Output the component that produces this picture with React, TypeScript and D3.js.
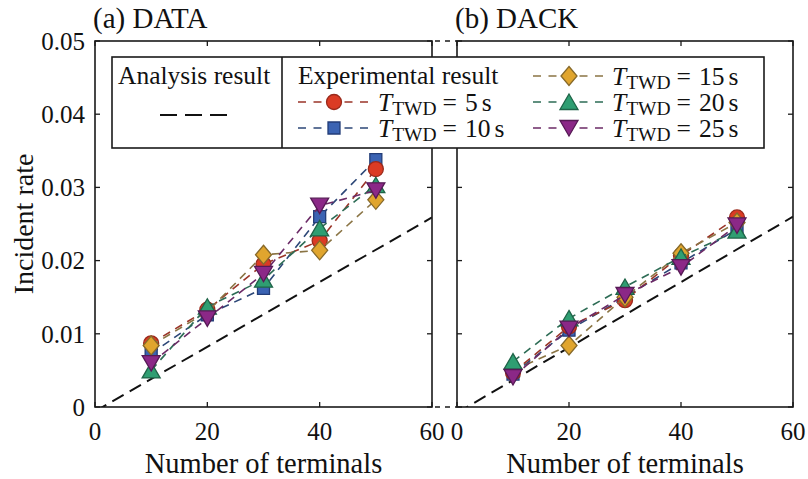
import React from "react";
import * as d3 from "d3";

const terminals = [10, 20, 30, 40, 50];
const xTicks = [0, 20, 40, 60];
const yTicks = [0, 0.01, 0.02, 0.03, 0.04, 0.05];
const yTickLabels = ["0", "0.01", "0.02", "0.03", "0.04", "0.05"];

// (a) DATA
const dataT5 = [0.0087, 0.0133, 0.0195, 0.0227, 0.0325];
const dataT10 = [0.0073, 0.0126, 0.0162, 0.026, 0.0338];
const dataT15 = [0.0084, 0.013, 0.0208, 0.0214, 0.0283];
const dataT20 = [0.005, 0.0137, 0.0174, 0.0244, 0.0303];
const dataT25 = [0.006, 0.0121, 0.0182, 0.0275, 0.0296];
// (b) DACK
const dackT5 = [0.0047, 0.011, 0.0146, 0.0207, 0.0259];
const dackT10 = [0.0045, 0.0105, 0.015, 0.0197, 0.0243];
const dackT15 = [0.005, 0.0084, 0.015, 0.021, 0.0252];
const dackT20 = [0.0062, 0.0121, 0.0164, 0.0205, 0.0241];
const dackT25 = [0.0041, 0.0107, 0.0153, 0.0191, 0.0248];

// analysis result
const analysisX = [0, 60];
const analysisData = [-0.0006, 0.0259];
const analysisDack = [-0.0008, 0.026];

type Style = { marker: string; fill: string; stroke: string; line: string };
const styles: Record<string, Style> = {
  "5": { marker: "circle", fill: "#db3b24", stroke: "#9a2a1c", line: "#9a3528" },
  "10": { marker: "square", fill: "#3b63b3", stroke: "#233d78", line: "#2c4777" },
  "15": { marker: "diamond", fill: "#e0a52e", stroke: "#86692a", line: "#8a7444" },
  "20": { marker: "up", fill: "#2f9e72", stroke: "#1f6448", line: "#2d6c55" },
  "25": { marker: "down", fill: "#8b2887", stroke: "#561a55", line: "#6b2a66" },
};

const FONT = '"Liberation Serif", "Times New Roman", Times, serif';
const AX = "#1a1a1a";

const y = d3.scaleLinear().domain([0, 0.05]).range([407, 41]);
const xL = d3.scaleLinear().domain([0, 60]).range([95, 432]);
const xR = d3.scaleLinear().domain([0, 60]).range([457, 793]);

function markerPath(kind: string): string {
  switch (kind) {
    case "circle":
      return "M7.5,0A7.5,7.5,0,1,1,-7.5,0A7.5,7.5,0,1,1,7.5,0Z";
    case "square":
      return "M-6,-6H6V6H-6Z";
    case "diamond":
      return "M0,-9.5L8,0L0,9.5L-8,0Z";
    case "up":
      return "M0,-8L9,7.5L-9,7.5Z";
    case "down":
    default:
      return "M0,8L9,-7.5L-9,-7.5Z";
  }
}

function Marker({ kind, x, yy, fill, stroke }: { kind: string; x: number; yy: number; fill: string; stroke: string }) {
  return (
    <path d={markerPath(kind)} transform={`translate(${x},${yy})`} fill={fill} stroke={stroke} strokeWidth={1.3} />
  );
}

const drawOrder = ["10", "5", "15", "20", "25"];

function Panel({
  id,
  x,
  series,
  analysis,
  title,
  showY,
}: {
  id: string;
  x: d3.ScaleLinear<number, number>;
  series: Record<string, number[]>;
  analysis: number[];
  title: string;
  showY: boolean;
}) {
  const [x0, x1] = x.range();
  const [y0, y1] = y.range();
  const line = d3
    .line<number>()
    .x((_, i) => x(terminals[i]))
    .y((d) => y(d));
  const aLine = d3
    .line<number>()
    .x((_, i) => x(analysisX[i]))
    .y((d) => y(d));
  return (
    <g>
      <defs>
        <clipPath id={`clip-${id}`}>
          <rect x={x0} y={y1} width={x1 - x0} height={y0 - y1} />
        </clipPath>
      </defs>
      <path
        d={aLine(analysis) || ""}
        fill="none"
        stroke="#111"
        strokeWidth={2}
        strokeDasharray="13,7"
        clipPath={`url(#clip-${id})`}
      />
      {drawOrder.map((k) => (
        <g key={k}>
          <path d={line(series[k]) || ""} fill="none" stroke={styles[k].line} strokeWidth={1.6} strokeDasharray="8,6" />
          {series[k].map((v, i) => (
            <Marker key={i} kind={styles[k].marker} x={x(terminals[i])} yy={y(v)} fill={styles[k].fill} stroke={styles[k].stroke} />
          ))}
        </g>
      ))}
      <rect x={x0} y={y1} width={x1 - x0} height={y0 - y1} fill="none" stroke={AX} strokeWidth={1.6} />
      {xTicks.map((t) => (
        <g key={`xt${t}`}>
          <line x1={x(t)} x2={x(t)} y1={y0} y2={y0 - 5} stroke={AX} strokeWidth={1.3} />
          <line x1={x(t)} x2={x(t)} y1={y1} y2={y1 + 5} stroke={AX} strokeWidth={1.3} />
          <text x={x(t)} y={440} textAnchor="middle" fontFamily={FONT} fontSize={25} fill="#111">
            {t}
          </text>
        </g>
      ))}
      {yTicks.map((t, i) => (
        <g key={`yt${t}`}>
          <line x1={x0} x2={x0 + 5} y1={y(t)} y2={y(t)} stroke={AX} strokeWidth={1.3} />
          <line x1={x1} x2={x1 - 5} y1={y(t)} y2={y(t)} stroke={AX} strokeWidth={1.3} />
          {showY && (
            <text x={85} y={y(t)} dy="0.35em" textAnchor="end" fontFamily={FONT} fontSize={25} fill="#111">
              {yTickLabels[i]}
            </text>
          )}
        </g>
      ))}
      <text x={(x0 + x1) / 2} y={473} textAnchor="middle" fontFamily={FONT} fontSize={28.5} fill="#111">
        Number of terminals
      </text>
      <text x={x0 - 2} y={28} fontFamily={FONT} fontSize={29} fill="#111">
        {title}
      </text>
    </g>
  );
}

function TLabel({ x, yy, value }: { x: number; yy: number; value: string }) {
  return (
    <text x={x} y={yy} fontFamily={FONT} fontSize={25.5} fill="#111">
      <tspan fontStyle="italic">T</tspan>
      <tspan fontSize={19.5} dy={4}>
        TWD
      </tspan>
      <tspan dy={-4} dx={6}>
        =
      </tspan>
      <tspan dx={8}>{value}</tspan>
      <tspan dx={4}>s</tspan>
    </text>
  );
}

function Legend() {
  const left = 112;
  const right = 764;
  const top = 57;
  const bottom = 148;
  const div = 282;
  const col1 = { lineX0: 298, lineX1: 370, mx: 334, tx: 378 };
  const col2 = { lineX0: 533, lineX1: 605, mx: 569, tx: 612 };
  const rowsY = [76, 102, 128];
  const items: { k: string; col: typeof col1; row: number }[] = [
    { k: "5", col: col1, row: 1 },
    { k: "10", col: col1, row: 2 },
    { k: "15", col: col2, row: 0 },
    { k: "20", col: col2, row: 1 },
    { k: "25", col: col2, row: 2 },
  ];
  return (
    <g>
      <rect x={left} y={top} width={right - left} height={bottom - top} fill="#fff" stroke={AX} strokeWidth={1.6} />
      <line x1={div} x2={div} y1={top} y2={bottom} stroke={AX} strokeWidth={1.6} />
      <text x={118} y={84} fontFamily={FONT} fontSize={25.5} fill="#111">
        Analysis result
      </text>
      <line x1={160} x2={229} y1={115} y2={115} stroke="#111" strokeWidth={2} strokeDasharray="17,8" />
      <text x={298} y={84} fontFamily={FONT} fontSize={25.5} fill="#111">
        Experimental result
      </text>
      {items.map(({ k, col, row }) => {
        const yy = rowsY[row];
        const s = styles[k];
        return (
          <g key={k}>
            <line x1={col.lineX0} x2={col.lineX1} y1={yy} y2={yy} stroke={s.line} strokeWidth={1.6} strokeDasharray="8,7.5" />
            <Marker kind={s.marker} x={col.mx} yy={yy} fill={s.fill} stroke={s.stroke} />
            <TLabel x={col.tx} yy={yy + 9} value={k} />
          </g>
        );
      })}
    </g>
  );
}

export default function App() {
  const seriesA: Record<string, number[]> = { "5": dataT5, "10": dataT10, "15": dataT15, "20": dataT20, "25": dataT25 };
  const seriesB: Record<string, number[]> = { "5": dackT5, "10": dackT10, "15": dackT15, "20": dackT20, "25": dackT25 };
  return (
    <svg width={808} height={479} style={{ position: "absolute", left: 0, top: 0, background: "#fff" }}>
      <rect x={0} y={0} width={808} height={479} fill="#fff" />
      <Panel id="a" x={xL} series={seriesA} analysis={analysisData} title="(a) DATA" showY={true} />
      <Panel id="b" x={xR} series={seriesB} analysis={analysisDack} title="(b) DACK" showY={false} />
      <line x1={432} x2={457} y1={41} y2={41} stroke={AX} strokeWidth={1.6} strokeDasharray="5,5" strokeDashoffset={-3} />
      <line x1={432} x2={457} y1={407} y2={407} stroke={AX} strokeWidth={1.6} strokeDasharray="5,5" strokeDashoffset={-3} />
      <text transform={`translate(33,224) rotate(-90)`} textAnchor="middle" fontFamily={FONT} fontSize={28} fill="#111">
        Incident rate
      </text>
      <Legend />
    </svg>
  );
}
